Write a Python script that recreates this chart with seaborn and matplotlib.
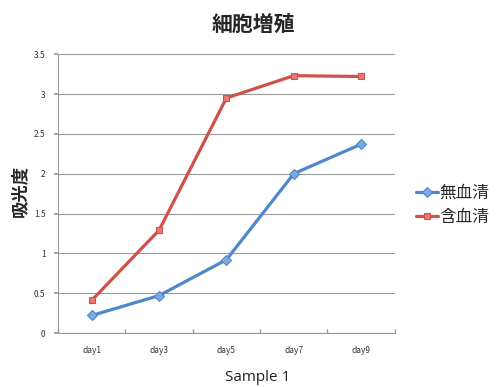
import matplotlib
matplotlib.use("Agg")
import matplotlib.pyplot as plt
import seaborn as sns
import pandas as pd

days = ["day1", "day3", "day5", "day7", "day9"]
no_serum = [0.22, 0.47, 0.92, 2.00, 2.37]
with_serum = [0.41, 1.29, 2.95, 3.23, 3.22]
series_names = ["無血清", "含血清"]
yticks = [0, 0.5, 1, 1.5, 2, 2.5, 3, 3.5]
ytick_labels = ["0", "0.5", "1", "1.5", "2", "2.5", "3", "3.5"]

df = pd.DataFrame({
    "day": days * 2,
    "value": no_serum + with_serum,
    "series": [series_names[0]] * len(days) + [series_names[1]] * len(days),
})

sns.set_theme(style="white")
plt.rcParams["font.family"] = ["Noto Sans CJK JP", "DejaVu Sans"]

fig = plt.figure(figsize=(4.96, 3.87), dpi=100)
ax = fig.add_axes([0.117, 0.1395, 0.679, 0.7205])

palette = {series_names[0]: "#4F87CC", series_names[1]: "#D0504C"}
markers = {series_names[0]: "D", series_names[1]: "s"}
sns.lineplot(data=df, x="day", y="value", hue="series", style="series",
             palette=palette, markers=markers, dashes=False, sort=False,
             linewidth=2.3, markersize=5, ax=ax, legend=False)

# slightly lighter marker faces
for line, face in zip(ax.lines, ["#7EAAE0", "#E77A76"]):
    line.set_markerfacecolor(face)
    line.set_markeredgecolor(line.get_color())
    line.set_markeredgewidth(0.8)

ax.set_xlim(-0.5, 4.5)
ax.set_ylim(0, 3.5)
ax.set_yticks(yticks)
ax.set_yticklabels(ytick_labels)
ax.yaxis.grid(True, color="#9A9A9A", linewidth=0.8)
ax.set_axisbelow(True)

for s in ["top", "right"]:
    ax.spines[s].set_visible(False)
for s in ["left", "bottom"]:
    ax.spines[s].set_color("#9A9A9A")
    ax.spines[s].set_linewidth(0.8)

ax.set_xticks(range(len(days)))
ax.set_xticklabels(days)
ax.set_xticks([i + 0.5 for i in range(-1, len(days))], minor=True)
ax.tick_params(axis="x", which="major", length=0, labelsize=6, labelcolor="#333333", pad=9)
ax.tick_params(axis="x", which="minor", length=3, color="#9A9A9A", direction="in", bottom=True)
ax.tick_params(axis="y", length=3, color="#9A9A9A", direction="out", left=True,
               labelsize=6, labelcolor="#333333", pad=6)
ax.set_xlabel("")
ax.set_ylabel("吸光度", fontsize=12.5, fontweight="bold")
ax.yaxis.set_label_coords(-0.085, 0.51)

fig.text(0.51, 0.935, "細胞増殖", ha="center", va="center", fontsize=15, fontweight="bold")
fig.text(0.52, 0.025, "Sample 1", ha="center", va="center", fontsize=11,
         family=["Open Sans", "DejaVu Sans"], color="#222222")

handles = ax.lines[:2]
leg = fig.legend(handles, series_names, loc="center left", bbox_to_anchor=(0.825, 0.47),
                 frameon=False, fontsize=12, handlelength=1.3, handletextpad=0.1,
                 labelspacing=0.45, borderaxespad=0)
for h in leg.legend_handles:
    h.set_markersize(5)

fig.savefig("out.png", dpi=100)
